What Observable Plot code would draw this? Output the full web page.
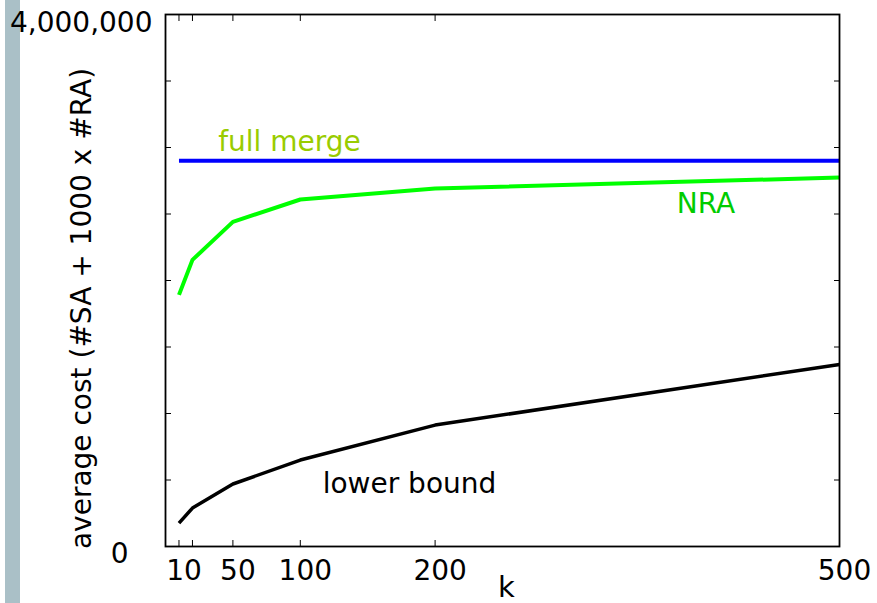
<!DOCTYPE html>
<html><head><meta charset="utf-8">
<script src="https://cdn.jsdelivr.net/npm/d3@7"></script>
<script src="https://cdn.jsdelivr.net/npm/@observablehq/plot@0.6"></script>
<style>
body{margin:0;background:#fff;}
#wrap{position:relative;width:877px;height:603px;overflow:hidden;background:#fff;}
#bar{position:absolute;left:5px;top:0;width:15px;height:603px;background:#aac0c7;}
#chart{position:absolute;left:0;top:0;}
</style></head><body>
<div id="wrap"><div id="bar"></div><div id="chart"></div></div>
<script>
const kValues = [10, 20, 50, 100, 200, 500];
const fullMerge = [2900000, 2900000, 2900000, 2900000, 2900000, 2900000];
const nra = [1892000, 2155000, 2441000, 2609000, 2692000, 2774000];
const lowerBound = [176000, 289000, 470000, 650000, 913000, 1369000];
const xTicks = [10, 20, 50, 100, 200, 500];
const xTickLabels = [10, 50, 100, 200, 500];
const yTicks = [0, 500000, 1000000, 1500000, 2000000, 2500000, 3000000, 3500000, 4000000];
const seriesNames = ["full merge", "NRA", "lower bound"];
const seriesColors = ["#0000ff", "#00ff00", "#000000"];
const labelColors = ["#99cc00", "#00cc00", "#000000"];
const labelK = [92, 401, 181];
const labelValue = [2977000, 2505000, 406000];
const xTitle = "k";
const yTitle = "average cost (#SA + 1000 x #RA)";

const seriesValues = [fullMerge, nra, lowerBound];
const rows = seriesNames.map((name, i) => kValues.map((k, j) => ({series: name, k, v: seriesValues[i][j]})));
const labels = seriesNames.map((name, i) => ({name, k: labelK[i], v: labelValue[i], color: labelColors[i]}));
const font = "DejaVu Sans";

const chart = Plot.plot({
  width: 877, height: 603,
  marginLeft: 165, marginRight: 38, marginTop: 14, marginBottom: 57,
  style: {fontFamily: font, background: "transparent", color: "black"},
  x: {domain: [0, 500]},
  y: {domain: [0, 4000000]},
  marks: [
    Plot.line(rows[0], {x: "k", y: "v", stroke: seriesColors[0], strokeWidth: 4, strokeLinecap: "butt"}),
    Plot.line(rows[1], {x: "k", y: "v", stroke: seriesColors[1], strokeWidth: 4, strokeLinecap: "butt"}),
    Plot.line(rows[2], {x: "k", y: "v", stroke: seriesColors[2], strokeWidth: 3.5, strokeLinecap: "butt"}),
    Plot.text(labels, {x: "k", y: "v", text: "name", fill: "color", fontSize: 28, lineAnchor: "bottom", textAnchor: "middle", fontFamily: font}),
    Plot.axisY(yTicks, {anchor: "left", tickSize: -6, tickFormat: () => "", label: null, strokeWidth: 1}),
    Plot.axisY(yTicks, {anchor: "right", tickSize: -6, tickFormat: () => "", label: null, strokeWidth: 1}),
    Plot.axisX(xTicks, {anchor: "bottom", tickSize: -6, tickFormat: () => "", label: null, strokeWidth: 1}),
    Plot.axisX(xTicks, {anchor: "top", tickSize: -6, tickFormat: () => "", label: null, strokeWidth: 1}),
    Plot.axisX(xTickLabels, {anchor: "bottom", tickSize: 0, tickPadding: 14, dx: 5, fontSize: 28, fontFamily: font, label: null, tickFormat: d => String(d)}),
    Plot.axisY([0], {anchor: "left", tickSize: 0, tickPadding: 37, dy: 8, fontSize: 28, fontFamily: font, label: null, tickFormat: d3.format(",")}),
    Plot.axisY([4000000], {anchor: "left", tickSize: 0, tickPadding: 13, dy: 9, fontSize: 28, fontFamily: font, label: null, tickFormat: d3.format(",")}),
    Plot.text([xTitle], {frameAnchor: "bottom", dx: 4, dy: 50, lineAnchor: "bottom", textAnchor: "middle", fontSize: 29, fontFamily: font}),
    Plot.text([yTitle], {frameAnchor: "left", rotate: -90, dx: -75, dy: 28, lineAnchor: "bottom", textAnchor: "middle", fontSize: 28, fontFamily: font}),
    Plot.frame({stroke: "black", strokeWidth: 1.8})
  ]
});
document.getElementById("chart").appendChild(chart);
</script>
</body></html>
